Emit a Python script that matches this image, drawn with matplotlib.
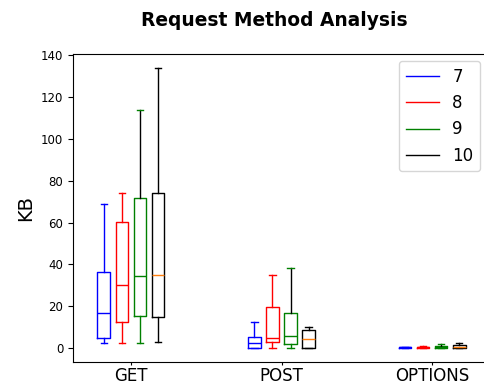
import numpy as np
import matplotlib
matplotlib.use("Agg")
import matplotlib.pyplot as plt

# request methods on the x axis
methods = ["GET", "POST", "OPTIONS"]
series = ["7", "8", "9", "10"]
colors = ["blue", "red", "green", "black"]

# five-number summaries (KB), one list per series: GET, POST, OPTIONS
whislo = {"7": [2.2, 0.0, 0.0], "8": [2.2, 0.1, 0.0],
          "9": [2.5, 0.1, 0.0], "10": [2.9, 0.0, 0.0]}
q1 = {"7": [4.6, 0.1, 0.1], "8": [12.5, 3.0, 0.1],
      "9": [15.2, 1.8, 0.2], "10": [14.9, 0.1, 0.1]}
med = {"7": [16.8, 2.2, 0.3], "8": [30.0, 5.0, 0.3],
       "9": [34.3, 5.7, 0.5], "10": [34.8, 4.1, 0.6]}
q3 = {"7": [36.3, 5.4, 0.5], "8": [60.1, 19.5, 0.6],
      "9": [71.8, 16.6, 1.0], "10": [74.1, 8.6, 1.5]}
whishi = {"7": [68.9, 12.6, 0.7], "8": [74.4, 34.9, 0.8],
          "9": [113.8, 38.4, 2.0], "10": [134.0, 10.2, 2.5]}

offsets = [-0.18, -0.06, 0.06, 0.18]

fig = plt.figure(figsize=(4.84, 3.88), dpi=100)
ax = fig.add_axes([73 / 484, 26 / 388, 0.8616, 308 / 388])

base = np.arange(len(methods))
for s, c, off in zip(series, colors, offsets):
    stats = []
    for i in range(len(methods)):
        stats.append({"whislo": whislo[s][i], "q1": q1[s][i], "med": med[s][i],
                      "q3": q3[s][i], "whishi": whishi[s][i], "fliers": []})
    bp = ax.bxp(stats, positions=base + off, widths=0.085, showfliers=False,
                manage_ticks=False)
    plt.setp(bp["boxes"], color=c)
    plt.setp(bp["caps"], color=c)
    plt.setp(bp["whiskers"], color=c)
    if s != "10":
        plt.setp(bp["medians"], color=c)
    else:
        plt.setp(bp["medians"], color="#ff7f0e")
    if s == "9":
        # upper whiskers of this series come out black
        plt.setp(bp["whiskers"][1::2], color="black")
    ax.plot([], [], color=c, lw=1, label=s)

ax.set_xticks(base)
ax.set_xticklabels(methods, fontsize=12)
ax.tick_params(axis="x", length=2, pad=1.5)
ax.set_xlim(-0.385, 2.385)
ax.set_ylim(-6.7, 140.7)
ax.set_yticks(np.arange(0, 141, 20))
ax.tick_params(axis="y", labelsize=8.5)
ax.set_ylabel("KB", fontsize=14)

fig.legend(loc="upper right", bbox_to_anchor=(480 / 484, 1 - 61 / 388),
           fontsize=12, borderaxespad=0)
fig.text(274 / 484, 1 - 20 / 388, "Request Method Analysis", ha="center",
         va="center", fontsize=13.4, fontweight="bold")

fig.savefig("out.png", dpi=100)
